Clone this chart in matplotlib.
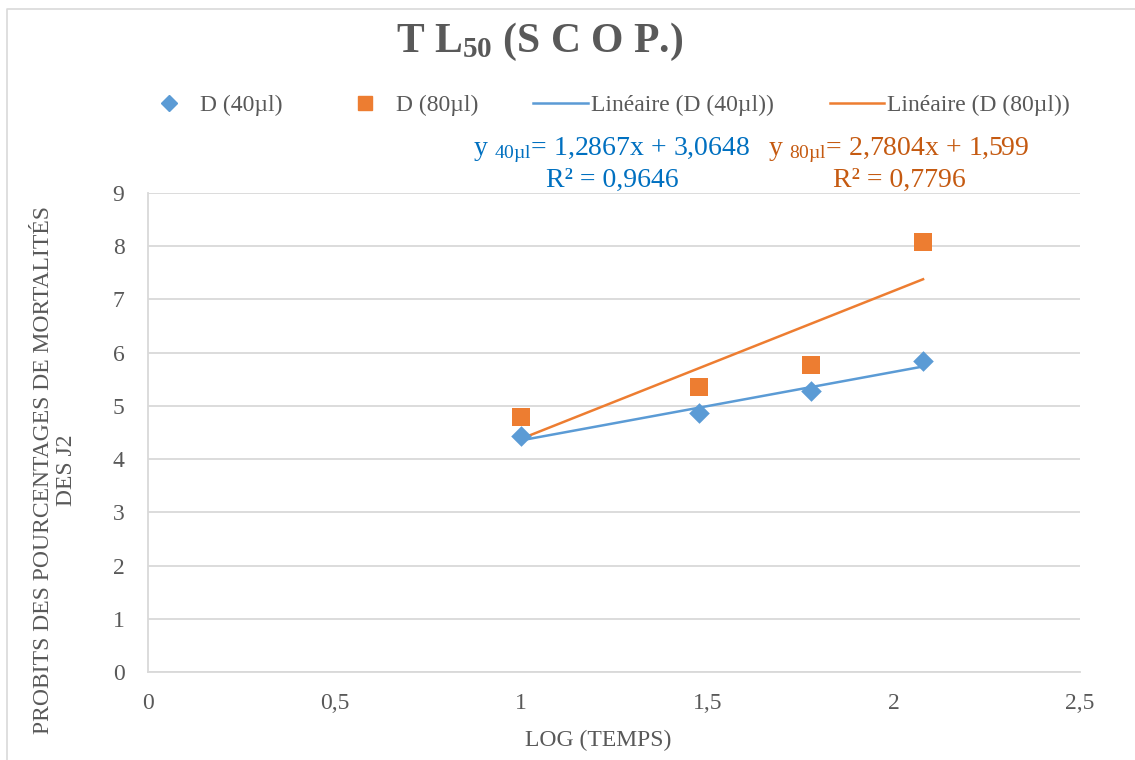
import numpy as np
import matplotlib
matplotlib.use("Agg")
import matplotlib.pyplot as plt
from matplotlib.lines import Line2D
from matplotlib.ticker import FuncFormatter

plt.rcParams['font.family'] = ['Liberation Serif', 'DejaVu Serif']
plt.rcParams['mathtext.fontset'] = 'custom'
plt.rcParams['mathtext.rm'] = 'Liberation Serif'
plt.rcParams['mathtext.it'] = 'Liberation Serif:italic'
plt.rcParams['mathtext.bf'] = 'Liberation Serif:bold'

# Log10 of exposure time and probit of J2 mortality
log_time = [1.0, 1.477, 1.778, 2.079]
probit_40 = [4.44, 4.87, 5.28, 5.85]
probit_80 = [4.79, 5.36, 5.77, 8.08]

# Linear trend coefficients (slope, intercept, R²)
fit_40 = (1.2867, 3.0648, 0.9646)
fit_80 = (2.7804, 1.599, 0.7796)

x_ticks = [0, 0.5, 1, 1.5, 2, 2.5]
y_ticks = list(range(0, 10))

c_blue = '#5B9BD5'
c_orange = '#ED7D31'
c_blue_txt = '#0070C0'
c_orange_txt = '#C55A11'
c_text = '#595959'
c_grid = '#D9D9D9'

W, H = 1135, 760
fig = plt.figure(figsize=(W / 100, H / 100), dpi=100)
ax = fig.add_axes([148 / W, 1 - 672 / H, (1080 - 148) / W, (672 - 193) / H])

ax.set_xlim(0, 2.5)
ax.set_ylim(0, 9)
ax.set_xticks(x_ticks)
ax.set_yticks(y_ticks)
ax.xaxis.set_major_formatter(FuncFormatter(lambda v, p: f"{v:g}".replace('.', ',')))
ax.tick_params(length=0, labelsize=17, colors=c_text)
ax.tick_params(axis='x', pad=15)
ax.tick_params(axis='y', pad=17)
ax.grid(axis='y', color=c_grid, linewidth=1.3)
ax.set_axisbelow(True)
for s in ['top', 'right']:
    ax.spines[s].set_visible(False)
for s in ['left', 'bottom']:
    ax.spines[s].set_color(c_grid)
    ax.spines[s].set_linewidth(1.3)

x_fit = np.array([min(log_time), max(log_time)])
ax.plot(x_fit, fit_40[0] * x_fit + fit_40[1], color=c_blue, lw=1.8, zorder=2)
ax.plot(x_fit, fit_80[0] * x_fit + fit_80[1], color=c_orange, lw=1.8, zorder=2)
ax.scatter(log_time, probit_40, marker='D', s=110, color=c_blue, zorder=3, linewidths=0)
ax.scatter(log_time, probit_80, marker='s', s=170, color=c_orange, zorder=3, linewidths=0)

# Legend
handles = [
    Line2D([], [], marker='D', ls='none', color=c_blue, markersize=8),
    Line2D([], [], marker='s', ls='none', color=c_orange, markersize=10),
    Line2D([], [], color=c_blue, lw=1.8),
    Line2D([], [], color=c_orange, lw=1.8),
]
labels = ['D (40µl)', 'D (80µl)', 'Linéaire (D (40µl))', 'Linéaire (D (80µl))']
fig.legend(handles, labels, loc='center', bbox_to_anchor=(606 / W, 1 - 105 / H), ncol=4,
           frameon=False, fontsize=17, labelcolor=c_text, columnspacing=2.35,
           handlelength=2.3, handletextpad=0.15)

# Trend line equations
fig.text(612 / W, 1 - 150 / H,
         "y ${}_{\\mathrm{40µl}}$= " + f"{fit_40[0]:.4f}x + {fit_40[1]:.4f}".replace('.', ','),
         ha='center', va='center', fontsize=20, color=c_blue_txt)
fig.text(612 / W, 1 - 180 / H, f"R² = {fit_40[2]:.4f}".replace('.', ','),
         ha='center', va='center', fontsize=20, color=c_blue_txt)
fig.text(899 / W, 1 - 150 / H,
         "y ${}_{\\mathrm{80µl}}$= " + f"{fit_80[0]:.4f}x + {fit_80[1]:g}".replace('.', ','),
         ha='center', va='center', fontsize=20, color=c_orange_txt)
fig.text(899 / W, 1 - 180 / H, f"R² = {fit_80[2]:.4f}".replace('.', ','),
         ha='center', va='center', fontsize=20, color=c_orange_txt)

# Title and axis titles
fig.text(540 / W, 1 - 42 / H, r"T L$_{\mathbf{50}}$ (S C O P.)", ha='center', va='center',
         fontsize=30, fontweight='bold', color=c_text)
fig.text(55 / W, 1 - 470 / H, "PROBITS DES POURCENTAGES DE MORTALITÉS\nDES J2",
         rotation=90, ha='center', va='center', multialignment='center',
         fontsize=17, color=c_text, linespacing=1.15)
fig.text(598 / W, 1 - 740 / H, "LOG (TEMPS)", ha='center', va='center',
         fontsize=17, color=c_text)

# Chart frame (top and left edges)
fig.add_artist(Line2D([7 / W, 7 / W, 1.0], [0.0, 1 - 9 / H, 1 - 9 / H],
                      transform=fig.transFigure, color=c_grid, linewidth=1.2))

fig.savefig("out.png", dpi=100)
